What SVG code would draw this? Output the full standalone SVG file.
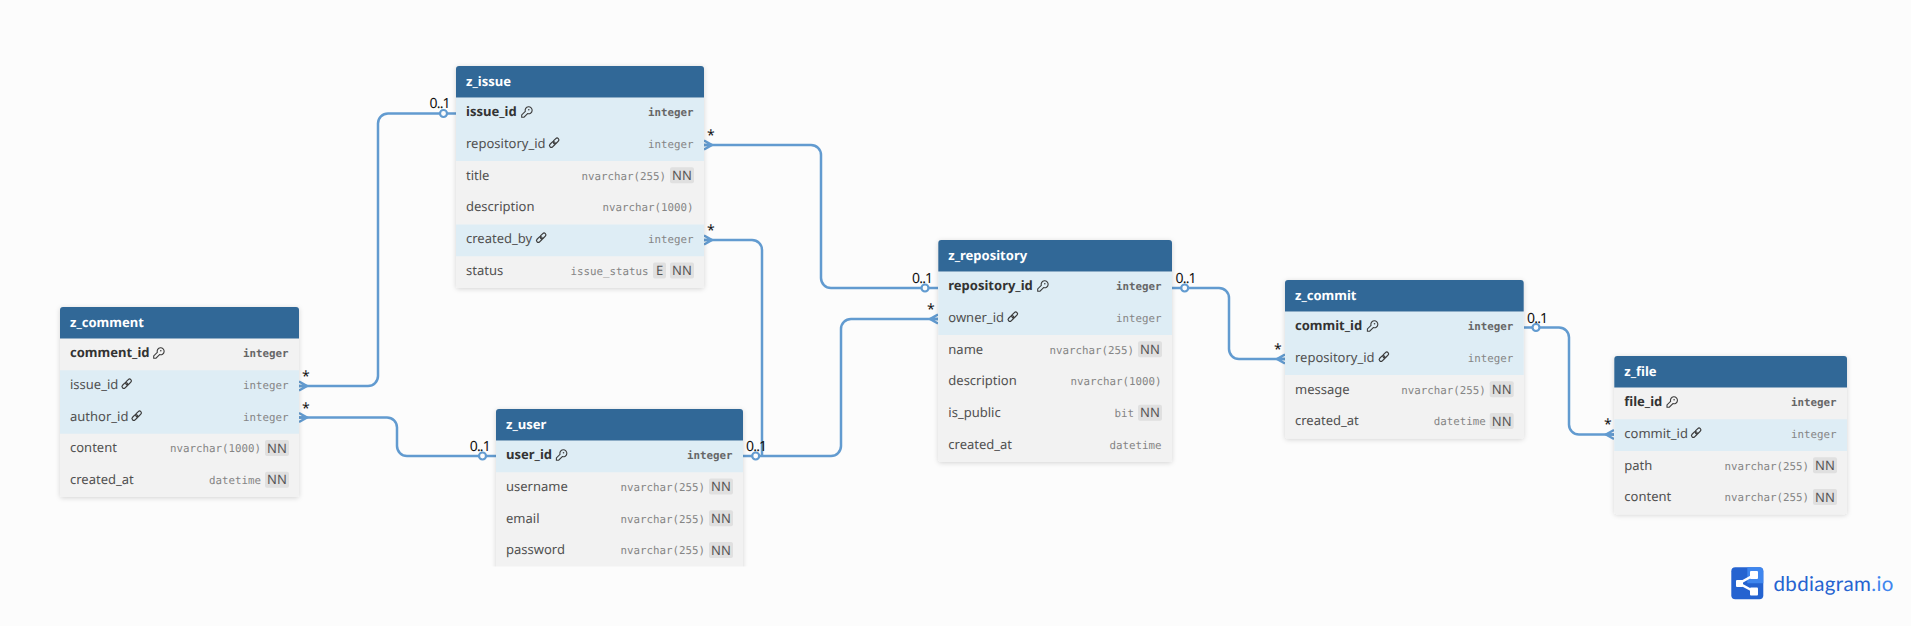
<svg xmlns="http://www.w3.org/2000/svg" width="1911" height="626" viewBox="0 0 1911 626">
<style>
text{font-family:"Noto Sans","Open Sans",sans-serif;text-rendering:geometricPrecision}
.h{font-size:13px;font-weight:700;fill:#fff}
.n{font-size:13px;fill:#505050}
.k{font-size:13px;font-weight:700;fill:#333}
.t{font-family:"DejaVu Sans Mono","Liberation Mono",monospace;font-size:10.8px;fill:#858585;text-anchor:end}
.tk{font-family:"DejaVu Sans Mono","Liberation Mono",monospace;font-size:10.8px;font-weight:700;fill:#666;text-anchor:end}
.body{fill:#f2f2f2}
.fk{fill:#deedf5}
.head{fill:#316897}
.bd{fill:#e0e0e0}
.bt{font-size:13px;fill:#555;text-anchor:middle}
.wire{fill:none;stroke:#629bd0;stroke-width:2.500}
.crow{fill:none;stroke:#629bd0;stroke-width:2.500}
.dot{fill:#fcfcfc;stroke:#629bd0;stroke-width:2.200}
.lb{font-size:14px;fill:#111;letter-spacing:-.8px}
.st{font-size:14px;fill:#111}
.ic{fill:none;stroke:#3c3c3c;stroke-width:1.100}
.sh{filter:url(#shadow)}
</style>
<defs>
<filter id="shadow" x="-10%" y="-10%" width="120%" height="125%"><feDropShadow dx="0" dy="1" stdDeviation="2.500" flood-color="#000" flood-opacity="0.16"/></filter>
<clipPath id="userclip"><rect x="470" y="390" width="300" height="176.500"/></clipPath>
<symbol id="key" viewBox="0 0 11 11" width="11" height="11" overflow="visible">
<path class="ic" d="M0.700 10.700 L0.700 8.400 L4.300 4.800 A3.500 3.500 0 1 1 6.600 7.100 L3 10.700 Z"/><circle cx="7.800" cy="3.200" r="0.800" fill="#3c3c3c"/>
</symbol>
<symbol id="link" viewBox="0 0 11 11" width="11" height="11" overflow="visible">
<g fill="none" stroke="#3c3c3c" stroke-width="1.200"><rect x="-3.300" y="-1.800" width="6.600" height="3.600" rx="1.800" transform="translate(3.400 7) rotate(-45)"/><rect x="-3.300" y="-1.800" width="6.600" height="3.600" rx="1.800" transform="translate(7 3.400) rotate(-45)"/></g>
</symbol>
<path id="crowR" class="crow" d="M0 -4.500 L8 0 L0 4.500 M0 0 L8 0"/>
<path id="crowL" class="crow" d="M0 -4.500 L-8 0 L0 4.500 M0 0 L-8 0"/>
</defs>
<rect width="1911" height="626" fill="#fcfcfc"/>

<g id="connectors">
<path class="wire" d="M299 386H368a10 10 0 0 0 10-10V123.500a10 10 0 0 1 10-10H456"/>
<path class="wire" d="M299 417.500H387a10 10 0 0 1 10 10V446a10 10 0 0 0 10 10H496"/>
<path class="wire" d="M704 145H811a10 10 0 0 1 10 10V278a10 10 0 0 0 10 10H938"/>
<path class="wire" d="M704 240H752a10 10 0 0 1 10 10V456"/>
<path class="wire" d="M743 456H831a10 10 0 0 0 10-10V329a10 10 0 0 1 10-10H938"/>
<path class="wire" d="M1172 288H1219a10 10 0 0 1 10 10V349a10 10 0 0 0 10 10H1285"/>
<path class="wire" d="M1524 327.500H1559a10 10 0 0 1 10 10V424.500a10 10 0 0 0 10 10H1614"/>
<use href="#crowR" x="299" y="386"/>
<use href="#crowR" x="299" y="417.500"/>
<use href="#crowR" x="704" y="145"/>
<use href="#crowR" x="704" y="240"/>
<use href="#crowL" x="938" y="319"/>
<use href="#crowL" x="1285" y="359"/>
<use href="#crowL" x="1614" y="434.500"/>
<circle class="dot" cx="443.500" cy="113.500" r="3.500"/>
<circle class="dot" cx="482.500" cy="456" r="3.500"/>
<circle class="dot" cx="925" cy="288" r="3.500"/>
<circle class="dot" cx="755.700" cy="456" r="3.500"/>
<circle class="dot" cx="1184.700" cy="288" r="3.500"/>
<circle class="dot" cx="1536" cy="327.500" r="3.500"/>
<text class="st" x="302" y="381">*</text>
<text class="st" x="302" y="413">*</text>
<text class="st" x="707" y="140">*</text>
<text class="st" x="707" y="235">*</text>
<text class="st" x="927" y="314">*</text>
<text class="st" x="1274" y="354">*</text>
<text class="st" x="1604" y="429">*</text>
<text class="lb" x="429.500" y="108">0..1</text>
<text class="lb" x="469.700" y="451">0..1</text>
<text class="lb" x="746" y="451">0..1</text>
<text class="lb" x="912" y="283">0..1</text>
<text class="lb" x="1175.500" y="283">0..1</text>
<text class="lb" x="1527" y="323">0..1</text>
</g>

<g id="z_comment" transform="translate(60 307)">
<rect class="body sh" width="239" height="190" rx="3"/>
<rect class="fk" y="63.250" width="239" height="63.500"/>
<path class="head" d="M0 31.500V3a3 3 0 0 1 3-3H236a3 3 0 0 1 3 3V31.500Z"/>
<text class="h" x="10" y="19.500">z_comment</text>
<text class="k" x="10" y="50">comment_id</text><use href="#key" x="93" y="40.500"/><text class="tk" x="228.500" y="50">integer</text>
<text class="n" x="10" y="81.750">issue_id</text><use href="#link" x="61.500" y="71.500"/><text class="t" x="228.500" y="81.750">integer</text>
<text class="n" x="10" y="113.500">author_id</text><use href="#link" x="71.500" y="103.500"/><text class="t" x="228.500" y="113.500">integer</text>
<text class="n" x="10" y="145.250">content</text><text class="t" x="201" y="145.250">nvarchar(1000)</text><rect class="bd" x="205" y="133" width="24" height="16" rx="2"/><text class="bt" x="217" y="145.500">NN</text>
<text class="n" x="10" y="177">created_at</text><text class="t" x="201" y="177">datetime</text><rect class="bd" x="205" y="164.800" width="24" height="16" rx="2"/><text class="bt" x="217" y="177.300">NN</text>
</g>

<g id="z_issue" transform="translate(456 66)">
<rect class="body sh" width="248" height="222" rx="3"/>
<rect class="fk" y="31.500" width="248" height="63.500"/>
<rect class="fk" y="158.500" width="248" height="31.750"/>
<path class="head" d="M0 31.500V3a3 3 0 0 1 3-3H245a3 3 0 0 1 3 3V31.500Z"/>
<text class="h" x="10" y="19.500">z_issue</text>
<text class="k" x="10" y="50">issue_id</text><use href="#key" x="65" y="40.500"/><text class="tk" x="237.500" y="50">integer</text>
<text class="n" x="10" y="81.750">repository_id</text><use href="#link" x="93" y="71.500"/><text class="t" x="237.500" y="81.750">integer</text>
<text class="n" x="10" y="113.500">title</text><text class="t" x="210" y="113.500">nvarchar(255)</text><rect class="bd" x="214" y="101.300" width="24" height="16" rx="2"/><text class="bt" x="226" y="113.800">NN</text>
<text class="n" x="10" y="145.250">description</text><text class="t" x="237.500" y="145.250">nvarchar(1000)</text>
<text class="n" x="10" y="177">created_by</text><use href="#link" x="80" y="166.500"/><text class="t" x="237.500" y="177">integer</text>
<text class="n" x="10" y="208.750">status</text><text class="t" x="192.500" y="208.750">issue_status</text><rect class="bd" x="197" y="196.500" width="13" height="16" rx="2"/><text class="bt" x="203.500" y="209">E</text><rect class="bd" x="214" y="196.500" width="24" height="16" rx="2"/><text class="bt" x="226" y="209">NN</text>
</g>

<g id="z_user" clip-path="url(#userclip)">
<g transform="translate(496 409)">
<rect class="body sh" width="247" height="170" rx="3"/>
<rect class="fk" y="31.500" width="247" height="31.750"/>
<path class="head" d="M0 31.500V3a3 3 0 0 1 3-3H244a3 3 0 0 1 3 3V31.500Z"/>
<text class="h" x="10" y="19.500">z_user</text>
<text class="k" x="10" y="50">user_id</text><use href="#key" x="59.700" y="40.500"/><text class="tk" x="236.500" y="50">integer</text>
<text class="n" x="10" y="81.750">username</text><text class="t" x="209" y="81.750">nvarchar(255)</text><rect class="bd" x="213" y="69.500" width="24" height="16" rx="2"/><text class="bt" x="225" y="82">NN</text>
<text class="n" x="10" y="113.500">email</text><text class="t" x="209" y="113.500">nvarchar(255)</text><rect class="bd" x="213" y="101.300" width="24" height="16" rx="2"/><text class="bt" x="225" y="113.800">NN</text>
<text class="n" x="10" y="145.250">password</text><text class="t" x="209" y="145.250">nvarchar(255)</text><rect class="bd" x="213" y="133" width="24" height="16" rx="2"/><text class="bt" x="225" y="145.500">NN</text>
</g>
</g>

<g id="z_repository" transform="translate(938.300 240)">
<rect class="body sh" width="233.700" height="222" rx="3"/>
<rect class="fk" y="31.500" width="233.700" height="63.500"/>
<path class="head" d="M0 31.500V3a3 3 0 0 1 3-3H230.700a3 3 0 0 1 3 3V31.500Z"/>
<text class="h" x="10" y="19.500">z_repository</text>
<text class="k" x="10" y="50">repository_id</text><use href="#key" x="98.700" y="40.500"/><text class="tk" x="223.200" y="50">integer</text>
<text class="n" x="10" y="81.750">owner_id</text><use href="#link" x="69.300" y="71.500"/><text class="t" x="223.200" y="81.750">integer</text>
<text class="n" x="10" y="113.500">name</text><text class="t" x="195.700" y="113.500">nvarchar(255)</text><rect class="bd" x="199.700" y="101.300" width="24" height="16" rx="2"/><text class="bt" x="211.700" y="113.800">NN</text>
<text class="n" x="10" y="145.250">description</text><text class="t" x="223.200" y="145.250">nvarchar(1000)</text>
<text class="n" x="10" y="177">is_public</text><text class="t" x="195.700" y="177">bit</text><rect class="bd" x="199.700" y="164.800" width="24" height="16" rx="2"/><text class="bt" x="211.700" y="177.300">NN</text>
<text class="n" x="10" y="208.750">created_at</text><text class="t" x="223.200" y="208.750">datetime</text>
</g>

<g id="z_commit" transform="translate(1285 280)">
<rect class="body sh" width="238.700" height="158.700" rx="3"/>
<rect class="fk" y="31.500" width="238.700" height="63.500"/>
<path class="head" d="M0 31.500V3a3 3 0 0 1 3-3H235.700a3 3 0 0 1 3 3V31.500Z"/>
<text class="h" x="10" y="19.500">z_commit</text>
<text class="k" x="10" y="50">commit_id</text><use href="#key" x="81.700" y="40.500"/><text class="tk" x="228.200" y="50">integer</text>
<text class="n" x="10" y="81.750">repository_id</text><use href="#link" x="93.700" y="71.500"/><text class="t" x="228.200" y="81.750">integer</text>
<text class="n" x="10" y="113.500">message</text><text class="t" x="200.700" y="113.500">nvarchar(255)</text><rect class="bd" x="204.700" y="101.300" width="24" height="16" rx="2"/><text class="bt" x="216.700" y="113.800">NN</text>
<text class="n" x="10" y="145.250">created_at</text><text class="t" x="200.700" y="145.250">datetime</text><rect class="bd" x="204.700" y="133" width="24" height="16" rx="2"/><text class="bt" x="216.700" y="145.500">NN</text>
</g>

<g id="z_file" transform="translate(1614.300 356)">
<rect class="body sh" width="232.700" height="158.300" rx="3"/>
<rect class="fk" y="63.250" width="232.700" height="31.750"/>
<path class="head" d="M0 31.500V3a3 3 0 0 1 3-3H229.700a3 3 0 0 1 3 3V31.500Z"/>
<text class="h" x="10" y="19.500">z_file</text>
<text class="k" x="10" y="50">file_id</text><use href="#key" x="52" y="40.500"/><text class="tk" x="222.200" y="50">integer</text>
<text class="n" x="10" y="81.750">commit_id</text><use href="#link" x="76.700" y="71.500"/><text class="t" x="222.200" y="81.750">integer</text>
<text class="n" x="10" y="113.500">path</text><text class="t" x="194.700" y="113.500">nvarchar(255)</text><rect class="bd" x="198.700" y="101.300" width="24" height="16" rx="2"/><text class="bt" x="210.700" y="113.800">NN</text>
<text class="n" x="10" y="145.250">content</text><text class="t" x="194.700" y="145.250">nvarchar(255)</text><rect class="bd" x="198.700" y="133" width="24" height="16" rx="2"/><text class="bt" x="210.700" y="145.500">NN</text>
</g>

<g id="logo">
<rect x="1731.300" y="567.300" width="32" height="32" rx="4" fill="#2563d0"/>
<path d="M1747.300 567.300H1759.300a4 4 0 0 1 4 4V583.300H1747.300Z" fill="#3f86ee"/>
<path d="M1739 583.300L1754 575M1739 583.300L1754 591.500" stroke="#fff" stroke-width="2.500" fill="none"/>
<rect x="1736" y="580" width="7" height="7" rx="1" fill="#fff"/><rect x="1750" y="571" width="8" height="8" rx="1" fill="#fff"/><rect x="1750" y="587.500" width="8" height="8" rx="1" fill="#fff"/>
<text x="1773.500" y="590.500" font-size="20.500" fill="#2563d0" style="font-family:Lato,'Noto Sans',sans-serif;letter-spacing:.35px">dbdiagram<tspan fill="#3f86ee">.io</tspan></text>
</g>
</svg>
